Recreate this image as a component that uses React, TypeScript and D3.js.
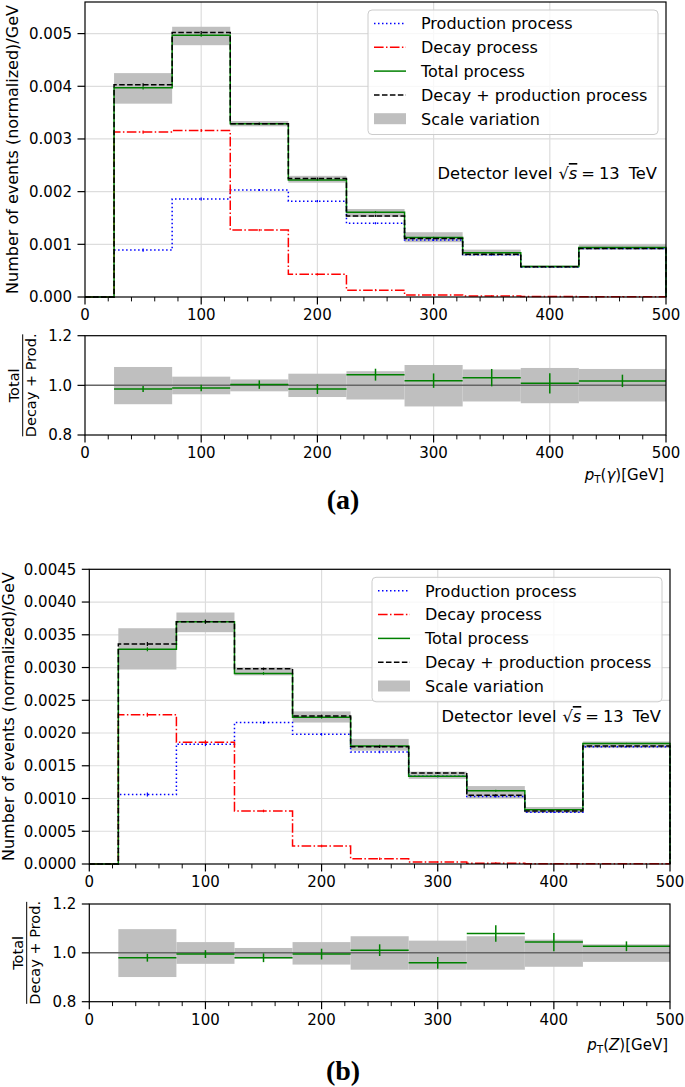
import React from "react";
import * as d3 from "d3";

// ---------- data ----------
const binEdges = [25, 75, 125, 175, 225, 275, 325, 375, 425, 500];
const xMajorTicks = [0, 100, 200, 300, 400, 500];
const xMinorTicks = [20, 40, 60, 80, 120, 140, 160, 180, 220, 240, 260, 280, 320, 340, 360, 380, 420, 440, 460, 480];
const ratioTicks = [0.8, 1.0, 1.2];
const yTicksA = [0, 0.001, 0.002, 0.003, 0.004, 0.005];
const yTicksB = [0, 0.0005, 0.001, 0.0015, 0.002, 0.0025, 0.003, 0.0035, 0.004, 0.0045];
const legendLabels = ["Production process", "Decay process", "Total process", "Decay + production process", "Scale variation"];

// panel (a): pT(gamma)
const prodA = [0.00089, 0.00186, 0.00203, 0.00182, 0.0014, 0.00108, 0.0008, 0.00057, 0.00092];
const decayA = [0.00313, 0.00316, 0.00127, 0.00043, 0.00013, 0.00004, 0.00002, 0.00001, 0.000005];
const totalA = [0.00397, 0.00497, 0.00329, 0.00222, 0.00161, 0.00113, 0.00084, 0.00058, 0.00094];
const dpA = [0.00403, 0.00502, 0.00329, 0.00225, 0.00154, 0.00111, 0.00081, 0.000575, 0.00092];
const bandHiA = [0.00425, 0.00513, 0.00334, 0.0023, 0.00167, 0.00123, 0.0009, 0.0006, 0.001];
const bandLoA = [0.00367, 0.00478, 0.00324, 0.00217, 0.00152, 0.00104, 0.00078, 0.00055, 0.0009];
const statErrA = [0.00003, 0.00003, 0.00002, 0.00002, 0.00002, 0.000015, 0.000015, 0.00001, 0.00001];
const ratioA = [0.985, 0.989, 1.003, 0.985, 1.043, 1.019, 1.031, 1.008, 1.018];
const ratioErrA = [0.012, 0.013, 0.017, 0.02, 0.024, 0.029, 0.035, 0.041, 0.025];
const ratioBandHiA = [1.074, 1.035, 1.024, 1.047, 1.057, 1.082, 1.064, 1.07, 1.066];
const ratioBandLoA = [0.924, 0.964, 0.976, 0.953, 0.943, 0.915, 0.935, 0.928, 0.935];

// panel (b): pT(Z)
const prodB = [0.00106, 0.00183, 0.00216, 0.00198, 0.00171, 0.00134, 0.00103, 0.00079, 0.00179];
const decayB = [0.00228, 0.00186, 0.00081, 0.000275, 0.00008, 0.00003, 0.00001, 0.000005, 0.000002];
const totalB = [0.00328, 0.0037, 0.00291, 0.00224, 0.0018, 0.00134, 0.00112, 0.00083, 0.00184];
const dpB = [0.00336, 0.0037, 0.00298, 0.00226, 0.00179, 0.00139, 0.00105, 0.00081, 0.0018];
const bandHiB = [0.0036, 0.00384, 0.003, 0.00233, 0.00191, 0.00141, 0.00119, 0.00087, 0.00187];
const bandLoB = [0.00297, 0.00354, 0.00288, 0.00216, 0.00173, 0.0013, 0.001, 0.00078, 0.00177];
const statErrB = [0.00003, 0.00003, 0.00002, 0.00002, 0.00002, 0.000015, 0.000015, 0.00001, 0.00001];
const ratioB = [0.98, 0.995, 0.98, 0.995, 1.011, 0.959, 1.079, 1.044, 1.027];
const ratioErrB = [0.016, 0.016, 0.018, 0.022, 0.024, 0.024, 0.034, 0.037, 0.02];
const ratioBandHiB = [1.097, 1.044, 1.02, 1.044, 1.068, 1.05, 1.068, 1.054, 1.035];
const ratioBandLoB = [0.901, 0.955, 0.977, 0.952, 0.931, 0.931, 0.931, 0.943, 0.963];

// ---------- styles ----------
const FONT = "DejaVu Sans";
const C_PROD = "#0000ff";
const C_DECAY = "#ff0000";
const C_TOTAL = "#008000";
const C_DP = "#000000";
const C_BAND = "#bfbfbf";
const C_GRID = "#dddddd";
const LW = 1.5;
const DASH_DOT = "1.5,2.5";
const DASH_DASHDOT = "9.6,2.4,1.5,2.4";
const DASH_DASH = "5.55,2.4";

type Cfg = {
  left: number; right: number; mainTop: number; mainBottom: number;
  ratioTop: number; ratioBottom: number; yMax: number; yTicks: number[]; yFmt: string;
  ylabelX: number; ratioLabelX: number; detectorY: number;
  xVar: string; xVarItalic: boolean; xlabelY: number; caption: string; captionY: number;
};

type Data = {
  prod: number[]; decay: number[]; total: number[]; dp: number[];
  bandHi: number[]; bandLo: number[]; statErr: number[];
  ratio: number[]; ratioErr: number[]; ratioBandHi: number[]; ratioBandLo: number[];
};

function Panel({ cfg, data }: { cfg: Cfg; data: Data }) {
  const x = d3.scaleLinear().domain([0, 500]).range([cfg.left, cfg.right]);
  const y = d3.scaleLinear().domain([0, cfg.yMax]).range([cfg.mainBottom, cfg.mainTop]);
  const yr = d3.scaleLinear().domain([0.8, 1.2]).range([cfg.ratioBottom, cfg.ratioTop]);
  const fmt = d3.format(cfg.yFmt);
  const nb = binEdges.length - 1;
  const bins = d3.range(nb).map((i) => ({ x0: binEdges[i], x1: binEdges[i + 1], c: (binEdges[i] + binEdges[i + 1]) / 2 }));

  const stepPts = (vals: number[]) => {
    const pts: [number, number][] = [[0, 0], [binEdges[0], 0]];
    vals.forEach((v, i) => { pts.push([binEdges[i], v]); pts.push([binEdges[i + 1], v]); });
    pts.push([500, 0]);
    return pts;
  };
  const line = d3.line<[number, number]>().x((d) => x(d[0])).y((d) => y(d[1]));

  const series = [
    { vals: data.prod, color: C_PROD, dash: DASH_DOT },
    { vals: data.decay, color: C_DECAY, dash: DASH_DASHDOT },
    { vals: data.total, color: C_TOTAL, dash: "" },
    { vals: data.dp, color: C_DP, dash: DASH_DASH },
  ];

  const majorLen = 7.5, minorLen = 4.4, tickW = 1.2;
  const boxW = 290, boxH = 124.5;
  const bx = cfg.right - 8 - boxW, by = cfg.mainTop + 8;
  const rowY = (i: number) => by + 13.5 + i * 23.8;

  const xAxis = (yb: number) => (
    <g>
      {xMajorTicks.map((t) => (
        <g key={"M" + t}>
          <line x1={x(t)} x2={x(t)} y1={yb} y2={yb + majorLen} stroke="#000" strokeWidth={tickW} />
          <text x={x(t)} y={yb + 23} textAnchor="middle" fontSize={15} fontFamily={FONT}>{t}</text>
        </g>
      ))}
      {xMinorTicks.map((t) => (
        <line key={"m" + t} x1={x(t)} x2={x(t)} y1={yb} y2={yb + minorLen} stroke="#000" strokeWidth={tickW * 0.8} />
      ))}
    </g>
  );

  return (
    <g>
      {/* ===== main panel ===== */}
      {xMajorTicks.slice(1, -1).map((t) => (
        <line key={"gx" + t} x1={x(t)} x2={x(t)} y1={cfg.mainTop} y2={cfg.mainBottom} stroke={C_GRID} strokeWidth={1.2} />
      ))}
      {cfg.yTicks.slice(1).map((t) => (
        <line key={"gy" + t} x1={cfg.left} x2={cfg.right} y1={y(t)} y2={y(t)} stroke={C_GRID} strokeWidth={1.2} />
      ))}
      {bins.map((b, i) => (
        <rect key={"b" + i} x={x(b.x0)} width={x(b.x1) - x(b.x0)} y={y(data.bandHi[i])}
          height={y(data.bandLo[i]) - y(data.bandHi[i])} fill={C_BAND} />
      ))}
      {series.map((s, k) => (
        <g key={"s" + k}>
          <path d={line(stepPts(s.vals)) || ""} fill="none" stroke={s.color} strokeWidth={LW}
            strokeDasharray={s.dash || undefined} />
          {bins.map((b, i) => (
            <line key={i} x1={x(b.c)} x2={x(b.c)} y1={y(s.vals[i] + data.statErr[i])}
              y2={y(Math.max(0, s.vals[i] - data.statErr[i]))} stroke={s.color} strokeWidth={1.2} />
          ))}
        </g>
      ))}
      <rect x={cfg.left} y={cfg.mainTop} width={cfg.right - cfg.left} height={cfg.mainBottom - cfg.mainTop}
        fill="none" stroke="#000" strokeWidth={1.2} />
      {cfg.yTicks.map((t) => (
        <g key={"yt" + t}>
          <line x1={cfg.left - majorLen} x2={cfg.left} y1={y(t)} y2={y(t)} stroke="#000" strokeWidth={tickW} />
          <text x={cfg.left - 13} y={y(t) + 5.4} textAnchor="end" fontSize={15} fontFamily={FONT}>{fmt(t)}</text>
        </g>
      ))}
      {xAxis(cfg.mainBottom)}

      {/* legend */}
      <rect x={bx} y={by} width={boxW} height={boxH} rx={4} fill="#fff" fillOpacity={0.8} stroke="#cccccc" strokeWidth={1} />
      {series.map((s, k) => (
        <line key={"lh" + k} x1={bx + 6} x2={bx + 38} y1={rowY(k)} y2={rowY(k)} stroke={s.color} strokeWidth={LW}
          strokeDasharray={s.dash || undefined} />
      ))}
      <rect x={bx + 6} y={rowY(4) - 5.5} width={32} height={11} fill={C_BAND} />
      {legendLabels.map((l, k) => (
        <text key={"lt" + k} x={bx + 53} y={rowY(k) + 5.8} fontSize={16} fontFamily={FONT}>{l}</text>
      ))}

      {/* annotation */}
      <text x={cfg.right - 9} y={cfg.detectorY} textAnchor="end" fontSize={16.3} fontFamily={FONT}>
        <tspan>Detector level</tspan>
        <tspan dx={6}>√</tspan>
        <tspan fontStyle="italic" textDecoration="overline">s</tspan>
        <tspan dx={4}>=</tspan>
        <tspan dx={4}>13</tspan>
        <tspan dx={9}>TeV</tspan>
      </text>

      {/* y label */}
      <text transform={`translate(${cfg.ylabelX},${(cfg.mainTop + cfg.mainBottom) / 2}) rotate(-90)`}
        textAnchor="middle" fontSize={16} fontFamily={FONT}>Number of events (normalized)/GeV</text>

      {/* ===== ratio panel ===== */}
      {xMajorTicks.slice(1, -1).map((t) => (
        <line key={"rgx" + t} x1={x(t)} x2={x(t)} y1={cfg.ratioTop} y2={cfg.ratioBottom} stroke={C_GRID} strokeWidth={1.2} />
      ))}
      {bins.map((b, i) => (
        <rect key={"rb" + i} x={x(b.x0)} width={x(b.x1) - x(b.x0)} y={yr(data.ratioBandHi[i])}
          height={yr(data.ratioBandLo[i]) - yr(data.ratioBandHi[i])} fill={C_BAND} />
      ))}
      <line x1={cfg.left} x2={cfg.right} y1={yr(1)} y2={yr(1)} stroke="#666" strokeWidth={1.5} />
      {bins.map((b, i) => (
        <g key={"re" + i}>
          <line x1={x(b.x0)} x2={x(b.x1)} y1={yr(data.ratio[i])} y2={yr(data.ratio[i])} stroke={C_TOTAL} strokeWidth={LW} />
          <line x1={x(b.c)} x2={x(b.c)} y1={yr(data.ratio[i] + data.ratioErr[i])} y2={yr(data.ratio[i] - data.ratioErr[i])}
            stroke={C_TOTAL} strokeWidth={LW} />
        </g>
      ))}
      <rect x={cfg.left} y={cfg.ratioTop} width={cfg.right - cfg.left} height={cfg.ratioBottom - cfg.ratioTop}
        fill="none" stroke="#000" strokeWidth={1.2} />
      {ratioTicks.map((t) => (
        <g key={"rt" + t}>
          <line x1={cfg.left - majorLen} x2={cfg.left} y1={yr(t)} y2={yr(t)} stroke="#000" strokeWidth={tickW} />
          <text x={cfg.left - 13} y={yr(t) + 5.4} textAnchor="end" fontSize={15} fontFamily={FONT}>{t.toFixed(1)}</text>
        </g>
      ))}
      {xAxis(cfg.ratioBottom)}

      {/* ratio y label as fraction */}
      <g transform={`translate(${cfg.ratioLabelX},${(cfg.ratioTop + cfg.ratioBottom) / 2}) rotate(-90)`}>
        <text x={0} y={-3.5} textAnchor="middle" fontSize={14.5} fontFamily={FONT}>Total</text>
        <line x1={-51} x2={51} y1={0} y2={0} stroke="#000" strokeWidth={1} />
        <text x={0} y={13} textAnchor="middle" fontSize={14.5} fontFamily={FONT}>Decay + Prod.</text>
      </g>

      {/* x label */}
      <text x={cfg.right - 2} y={cfg.xlabelY} textAnchor="end" fontSize={15} fontFamily={FONT}>
        <tspan fontStyle="italic">p</tspan>
        <tspan fontSize={10.5} dy={3}>T</tspan>
        <tspan dy={-3}>(</tspan>
        <tspan fontStyle={cfg.xVarItalic ? "italic" : "normal"}>{cfg.xVar}</tspan>
        <tspan>)[GeV]</tspan>
      </text>

      {/* caption */}
      <text x={343} y={cfg.captionY} textAnchor="middle" fontSize={28} fontWeight="bold" fontFamily="Liberation Serif">
        {cfg.caption}
      </text>
    </g>
  );
}

const cfgA: Cfg = {
  left: 85, right: 666, mainTop: 2, mainBottom: 297, ratioTop: 335.7, ratioBottom: 435,
  yMax: 0.0056, yTicks: yTicksA, yFmt: ".3f", ylabelX: 18, ratioLabelX: 22.7, detectorY: 179,
  xVar: "γ", xVarItalic: true, xlabelY: 480, caption: "(a)", captionY: 509,
};
const cfgB: Cfg = {
  left: 89.3, right: 670, mainTop: 569.3, mainBottom: 864, ratioTop: 904, ratioBottom: 1001.7,
  yMax: 0.0045, yTicks: yTicksB, yFmt: ".4f", ylabelX: 13.5, ratioLabelX: 26.7, detectorY: 722,
  xVar: "Z", xVarItalic: true, xlabelY: 1050, caption: "(b)", captionY: 1080,
};

const dataA: Data = {
  prod: prodA, decay: decayA, total: totalA, dp: dpA, bandHi: bandHiA, bandLo: bandLoA, statErr: statErrA,
  ratio: ratioA, ratioErr: ratioErrA, ratioBandHi: ratioBandHiA, ratioBandLo: ratioBandLoA,
};
const dataB: Data = {
  prod: prodB, decay: decayB, total: totalB, dp: dpB, bandHi: bandHiB, bandLo: bandLoB, statErr: statErrB,
  ratio: ratioB, ratioErr: ratioErrB, ratioBandHi: ratioBandHiB, ratioBandLo: ratioBandLoB,
};

export default function App() {
  return (
    <svg width={685} height={1087} style={{ position: "absolute", left: 0, top: 0, background: "#fff" }}>
      <rect x={0} y={0} width={685} height={1087} fill="#fff" />
      <Panel cfg={cfgA} data={dataA} />
      <Panel cfg={cfgB} data={dataB} />
    </svg>
  );
}
